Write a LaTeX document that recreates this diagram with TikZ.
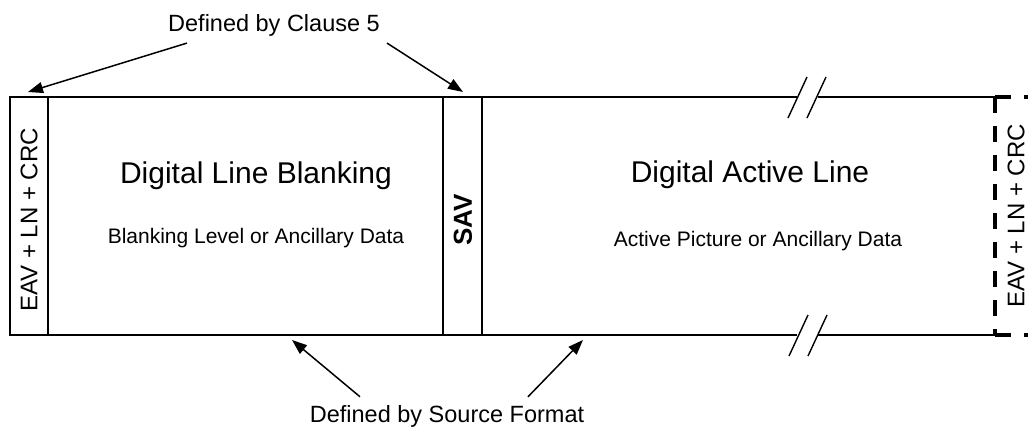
\documentclass[tikz,border=0pt]{standalone}
\usepackage{fontspec}
\setmainfont{Liberation Sans}
\usepackage{tikz}
\usetikzlibrary{arrows.meta}

\tikzset{
	frame/.style={line width=2.8pt},
	dashframe/.style={line width=3.6pt,dash pattern=on 16pt off 13pt},
	breakmark/.style={line width=1.4pt},
	callout/.style={->,line width=1.5pt},
	vlabel/.style={rotate=90,inner sep=0pt,font=\fontsize{24}{28}\selectfont},
	head/.style={anchor=base,inner sep=0pt,font=\fontsize{30}{36}\selectfont},
	sub/.style={anchor=base,inner sep=0pt,font=\fontsize{21}{25}\selectfont},
	note/.style={anchor=base,inner sep=0pt,font=\fontsize{23.5}{28}\selectfont}
}

\begin{document}
\begin{tikzpicture}[x=1pt,y=-1pt,>={Triangle[length=15pt,width=11pt]}]
	\useasboundingbox (0,0) rectangle (1028,428);

	% top and bottom of the line, broken at the // marks
	\draw[frame] (797,97) -- (10,97) -- (10,335) -- (797,335);
	\draw[frame] (818,97) -- (995,97);
	\draw[frame] (818,335) -- (995,335);
	\draw[frame] (48,97) -- (48,335);
	\draw[frame] (443,97) -- (443,335);
	\draw[frame] (482,97) -- (482,335);

	% next EAV, only partly shown
	\draw[dashframe] (995,97) -- (1045,97);
	\draw[dashframe] (995,97) -- (995,335);
	\draw[dashframe] (995,335) -- (1045,335);

	% break marks
	\foreach \x in {0,19}{
		\draw[breakmark] (788+\x,118) -- (807+\x,77);
		\draw[breakmark] (789+\x,356) -- (808+\x,315);
	}

	\node (eavleft) [vlabel] at (29,220) {EAV + LN + CRC};
	\node (sav) [rotate=90,inner sep=0pt,font=\fontsize{26}{30}\selectfont\bfseries] at (463,220) {SAV};
	\node (eavright) [vlabel] at (1016,216) {EAV + LN + CRC};

	\node (blanking) [head] at (256,183) {Digital Line Blanking};
	\node (blankingsub) [sub] at (256,243) {Blanking Level or Ancillary Data};
	\node (active) [head] at (750,182) {Digital Active Line};
	\node (activesub) [sub] at (758,246) {Active Picture or Ancillary Data};

	\node (clause) [note] at (274,32) {Defined by Clause 5};
	\node (source) [note] at (447,422) {Defined by Source Format};

	\coordinate (eavtip) at (28,92);
	\coordinate (savtip) at (463,92);
	\coordinate (blanktip) at (292,340);
	\coordinate (activetip) at (583,340);

	\draw[callout] ([xshift=-87pt,yshift=-6pt]clause.south) -- (eavtip);
	\draw[callout] ([xshift=113pt,yshift=-6pt]clause.south) -- (savtip);
	\draw[callout] ([xshift=-87pt,yshift=8pt]source.north) -- (blanktip);
	\draw[callout] ([xshift=81pt,yshift=8pt]source.north) -- (activetip);
\end{tikzpicture}
\end{document}
